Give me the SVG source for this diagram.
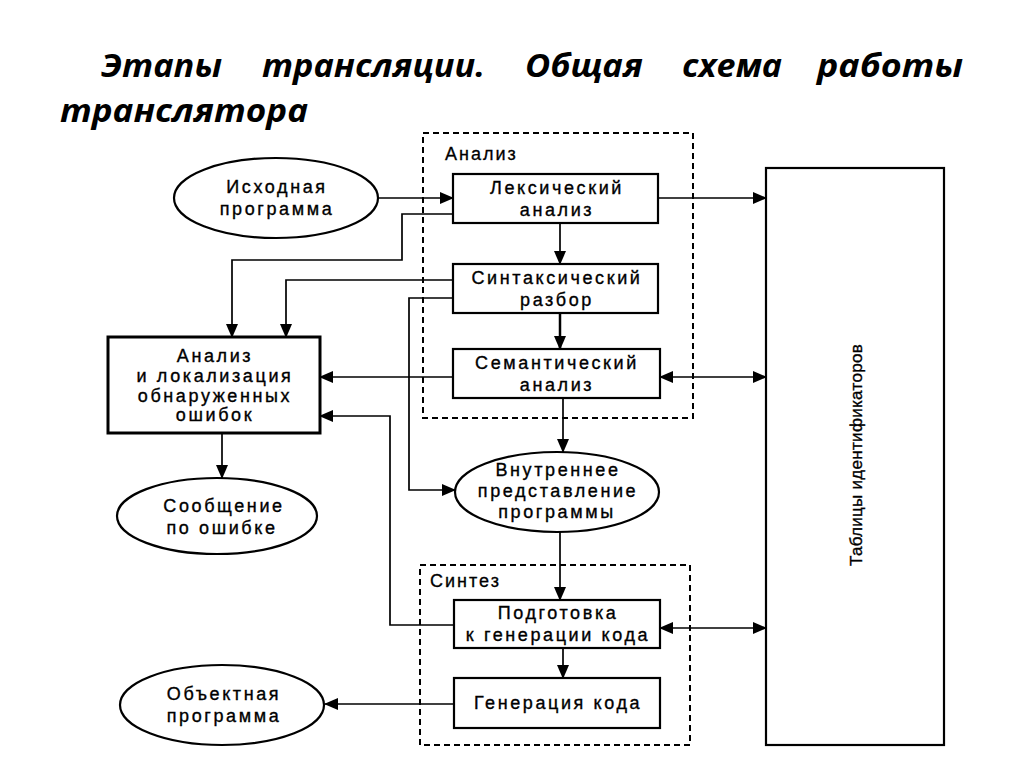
<svg xmlns="http://www.w3.org/2000/svg" width="1024" height="767" viewBox="0 0 1024 767">
<style>
.title{font-family:"Open Sans","Liberation Sans",sans-serif;font-weight:bold;font-style:italic;font-size:32px;fill:#000}
.t{font-family:"Liberation Sans",Arial,sans-serif;font-size:18px;letter-spacing:2.6px;text-anchor:middle;fill:#000;stroke:#000;stroke-width:0.35px}
.lbl{font-family:"Liberation Sans",Arial,sans-serif;font-size:18px;letter-spacing:2px;fill:#000;stroke:#000;stroke-width:0.3px}
.box{fill:#fff;stroke:#000;stroke-width:2.2}
.grp{fill:none;stroke:#000;stroke-width:2;stroke-dasharray:6 4}
.c{fill:none;stroke:#000;stroke-width:1.7}
.a{marker-end:url(#ah)}
.b{marker-start:url(#ah);marker-end:url(#ah)}
</style>
<defs>
<marker id="ah" markerUnits="userSpaceOnUse" markerWidth="14" markerHeight="12" refX="13" refY="6" orient="auto-start-reverse">
<path d="M0,0 L14,6 L0,12 z" fill="#000"/>
</marker>
</defs>
<rect width="1024" height="767" fill="#fff"/>

<g id="title">
<text class="title" x="101" y="77" textLength="121" lengthAdjust="spacingAndGlyphs">Этапы</text>
<text class="title" x="262" y="77" textLength="223" lengthAdjust="spacingAndGlyphs">трансляции.</text>
<text class="title" x="525" y="77" textLength="118" lengthAdjust="spacingAndGlyphs">Общая</text>
<text class="title" x="682" y="77" textLength="100" lengthAdjust="spacingAndGlyphs">схема</text>
<text class="title" x="817" y="77" textLength="146" lengthAdjust="spacingAndGlyphs">работы</text>
<text class="title" x="60" y="122" textLength="248" lengthAdjust="spacingAndGlyphs">транслятора</text>
</g>

<g id="group-analysis">
<rect class="grp" x="423" y="133" width="270" height="285"/>
<text class="lbl" x="445" y="160">Анализ</text>
</g>
<g id="group-synthesis">
<rect class="grp" x="420" y="565" width="270" height="180"/>
<text class="lbl" x="430" y="587">Синтез</text>
</g>

<g id="connectors">
<line class="c a" x1="378" y1="198" x2="453" y2="198"/>
<polyline class="c a" points="453,214 402,214 402,260 232,260 232,337"/>
<polyline class="c a" points="453,280 286,280 286,337"/>
<polyline class="c a" points="453,298 409,298 409,490 455,490"/>
<line class="c a" x1="560" y1="223" x2="560" y2="264"/>
<line class="c a" x1="560" y1="313" x2="560" y2="349" style="stroke-width:2.5"/>
<line class="c a" x1="453" y1="377" x2="320" y2="377"/>
<line class="c a" x1="563" y1="398" x2="563" y2="452"/>
<polyline class="c a" points="454,625 390,625 390,416 320,416"/>
<line class="c a" x1="222" y1="433" x2="222" y2="478"/>
<line class="c a" x1="560" y1="532" x2="560" y2="600"/>
<line class="c a" x1="563" y1="648" x2="563" y2="678"/>
<line class="c a" x1="454" y1="704" x2="325" y2="704"/>
<line class="c a" x1="658" y1="198" x2="766" y2="198"/>
<line class="c b" x1="660" y1="377" x2="766" y2="377"/>
<line class="c b" x1="660" y1="628" x2="766" y2="628"/>
</g>

<g id="source">
<ellipse class="box" cx="276" cy="198" rx="102" ry="40"/>
<text class="t" x="277" y="193">Исходная</text>
<text class="t" x="277" y="215">программа</text>
</g>
<g id="lexical">
<rect class="box" x="453" y="174" width="205" height="49"/>
<text class="t" x="557" y="194">Лексический</text>
<text class="t" x="557" y="216">анализ</text>
</g>
<g id="syntax">
<rect class="box" x="453" y="264" width="205" height="49"/>
<text class="t" x="557" y="284">Синтаксический</text>
<text class="t" x="557" y="306">разбор</text>
</g>
<g id="semantic">
<rect class="box" x="453" y="349" width="207" height="49"/>
<text class="t" x="557" y="369">Семантический</text>
<text class="t" x="557" y="391">анализ</text>
</g>
<g id="errors">
<rect class="box" x="108" y="337" width="212" height="96" style="stroke-width:3"/>
<text class="t" x="215" y="362">Анализ</text>
<text class="t" x="215" y="382">и локализация</text>
<text class="t" x="215" y="402">обнаруженных</text>
<text class="t" x="215" y="421">ошибок</text>
</g>
<g id="message">
<ellipse class="box" cx="217" cy="516" rx="100" ry="38"/>
<text class="t" x="224" y="512">Сообщение</text>
<text class="t" x="222" y="534">по ошибке</text>
</g>
<g id="internal">
<ellipse class="box" cx="557" cy="492" rx="102" ry="40"/>
<text class="t" x="558" y="476">Внутреннее</text>
<text class="t" x="558" y="497">представление</text>
<text class="t" x="557" y="518">программы</text>
</g>
<g id="prepare">
<rect class="box" x="454" y="600" width="206" height="48"/>
<text class="t" x="558" y="619">Подготовка</text>
<text class="t" x="558" y="641">к генерации кода</text>
</g>
<g id="codegen">
<rect class="box" x="454" y="678" width="206" height="50"/>
<text class="t" x="558" y="709">Генерация кода</text>
</g>
<g id="object">
<ellipse class="box" cx="222" cy="705" rx="102" ry="40"/>
<text class="t" x="224" y="700">Объектная</text>
<text class="t" x="224" y="722">программа</text>
</g>
<g id="tables">
<rect class="box" x="766" y="168" width="178" height="577"/>
<text class="t" style="font-size:17px;letter-spacing:0.3px" transform="translate(862,455) rotate(-90)">Таблицы идентификаторов</text>
</g>
</svg>
